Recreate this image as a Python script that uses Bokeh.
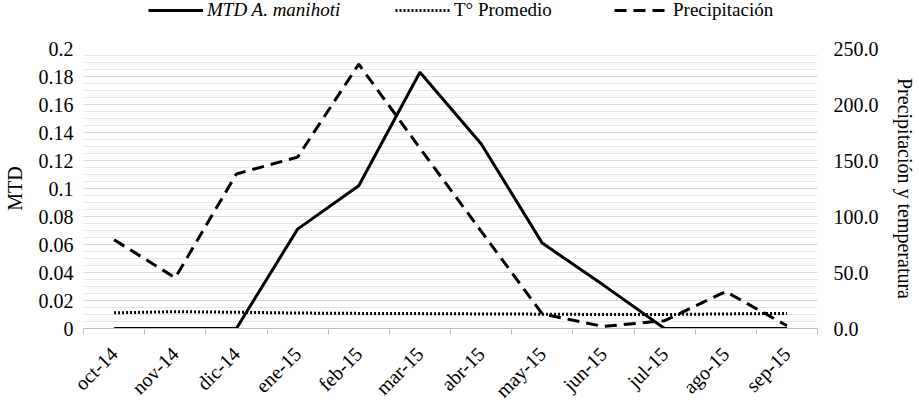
import math
from bokeh.plotting import figure
from bokeh.layouts import column
from bokeh.models import (Range1d, LinearAxis, FixedTicker, Legend, LegendItem)
from bokeh.embed import file_html
from bokeh.resources import INLINE

months = ["oct-14", "nov-14", "dic-14", "ene-15", "feb-15", "mar-15",
          "abr-15", "may-15", "jun-15", "jul-15", "ago-15", "sep-15"]
mtd = [0, 0, 0, 0.071, 0.102, 0.183, 0.132, 0.061, 0.031, 0, 0, 0]
temp = [14.0, 15.0, 14.5, 13.8, 13.5, 13.3, 13.0, 12.8, 12.5, 12.5, 13.0, 13.5]
precip = [79.2, 45.3, 138.0, 153.0, 236.0, 161.0, 87.0, 13.0, 1.8, 7.0, 33.0, 2.5]

left_ticks = [0, 0.02, 0.04, 0.06, 0.08, 0.1, 0.12, 0.14, 0.16, 0.18, 0.2]
left_labels = ["0", "0.02", "0.04", "0.06", "0.08", "0.1", "0.12", "0.14", "0.16", "0.18", "0.2"]
right_ticks = [0, 50, 100, 150, 200, 250]
right_labels = ["0.0", "50.0", "100.0", "150.0", "200.0", "250.0"]

FONT = "Liberation Serif"
FS = "20px"
xs = [i + 0.5 for i in range(len(months))]

LEG_H = 26

p = figure(width=919, height=414 - LEG_H, output_backend="svg", toolbar_location=None,
           x_range=Range1d(0, 12), y_range=Range1d(0, 0.2),
           min_border_left=82, min_border_right=102, min_border_top=48 - LEG_H,
           min_border_bottom=86)
p.outline_line_color = None
p.extra_y_ranges = {"right": Range1d(0, 250)}

# x axis
xa = p.xaxis[0]
xa.ticker = FixedTicker(ticks=xs, minor_ticks=list(range(13)))
xa.major_label_overrides = {x: m for x, m in zip(xs, months)}
xa.major_tick_out = 0
xa.major_tick_in = 0
xa.minor_tick_out = 6
xa.minor_tick_in = 0
xa.minor_tick_line_color = "#bfbfbf"
xa.axis_line_color = "#bfbfbf"
xa.major_label_orientation = math.pi / 4
xa.major_label_text_font = FONT
xa.major_label_text_font_size = FS
xa.major_label_text_color = "#000000"
xa.major_label_standoff = 16

def plain_y(ax):
    ax.axis_line_color = None
    ax.major_tick_line_color = None
    ax.minor_tick_line_color = None
    ax.major_tick_out = 0
    ax.major_tick_in = 0
    ax.minor_tick_out = 0
    ax.minor_tick_in = 0
    ax.major_label_text_font = FONT
    ax.major_label_text_font_size = FS
    ax.major_label_text_color = "#000000"
    ax.axis_label_text_font = FONT
    ax.axis_label_text_font_size = FS
    ax.axis_label_text_font_style = "normal"
    ax.axis_label_text_color = "#000000"

# left axis
ya = p.yaxis[0]
minor = [round(i * 0.005, 3) for i in range(41)]
ya.ticker = FixedTicker(ticks=left_ticks, minor_ticks=minor)
ya.major_label_overrides = {t: l for t, l in zip(left_ticks, left_labels)}
plain_y(ya)
ya.major_label_standoff = 10
ya.axis_label = "MTD"
ya.axis_label_standoff = 10

# right axis
ra = LinearAxis(y_range_name="right", ticker=FixedTicker(ticks=right_ticks))
ra.major_label_overrides = {t: l for t, l in zip(right_ticks, right_labels)}
plain_y(ra)
ra.major_label_standoff = 16
ra.axis_label = "Precipitación y temperatura"
ra.axis_label_standoff = 12
p.add_layout(ra, "right")

# grids
p.xgrid.grid_line_color = None
p.ygrid.grid_line_color = "#d9d9d9"
p.ygrid.minor_grid_line_color = "#e6e6e6"
p.ygrid.grid_line_width = 1

STY_MTD = dict(line_color="black", line_width=3)
STY_TEMP = dict(line_color="black", line_width=3, line_dash="2 2")
STY_PRE = dict(line_color="black", line_width=3, line_dash="12 7")

p.line(xs, mtd, **STY_MTD)
p.line(xs, temp, y_range_name="right", **STY_TEMP)
p.line(xs, precip, y_range_name="right", **STY_PRE)

# legend strip above the chart (its own frame is aligned with the main frame);
# the series are drawn there too, but outside its visible range, to serve as legend sources
lf = figure(width=919, height=LEG_H, output_backend="svg", toolbar_location=None,
            x_range=Range1d(0, 12), y_range=Range1d(1000, 1001),
            x_axis_type=None, y_axis_type=None, min_border=0)
lf.outline_line_color = None
lf.xgrid.visible = False
lf.ygrid.visible = False
l_mtd = lf.line(xs, mtd, **STY_MTD)
l_temp = lf.line(xs, temp, **STY_TEMP)
l_pre = lf.line(xs, precip, **STY_PRE)

def mk_legend(label, rend, x, italic=False):
    lg = Legend(items=[LegendItem(label=label, renderers=[rend])],
                location=(x, 5), orientation="horizontal",
                padding=0, margin=0, border_line_color=None, background_fill_alpha=0,
                glyph_width=55, glyph_height=18, label_height=18, label_standoff=4,
                label_text_font=FONT, label_text_font_size="19px",
                label_text_color="#000000",
                label_text_font_style="italic" if italic else "normal")
    lf.add_layout(lg, "center")

mk_legend("MTD A. manihoti", l_mtd, 65, italic=True)
mk_legend("T° Promedio", l_temp, 312)
mk_legend("Precipitación", l_pre, 531)

layout = column(lf, p, spacing=0)
open("out.html", "w").write(file_html(layout, INLINE))
